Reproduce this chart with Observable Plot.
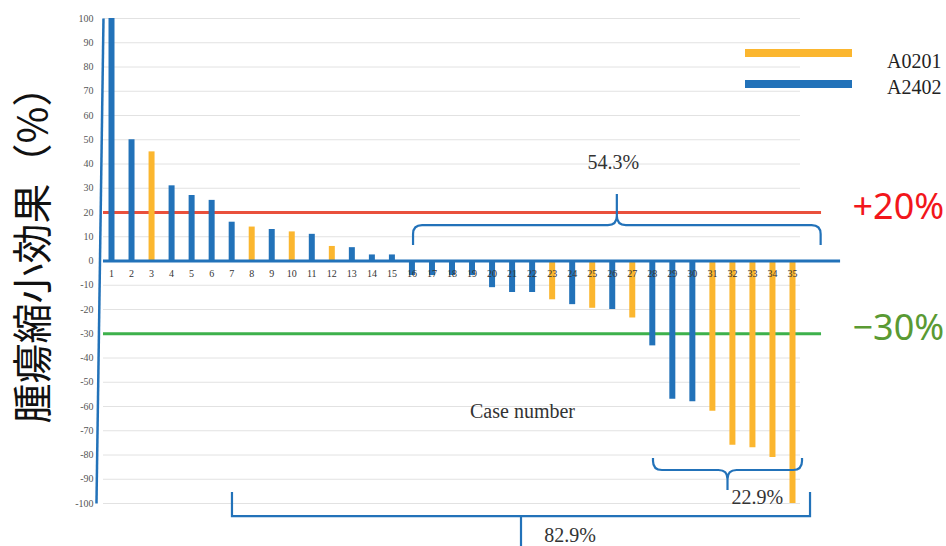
<!DOCTYPE html>
<html>
<head>
<meta charset="utf-8">
<script src="https://cdn.jsdelivr.net/npm/d3@7"></script>
<script src="https://cdn.jsdelivr.net/npm/@observablehq/plot@0.6"></script>
<style>
  body { margin: 0; background: #fff; }
  #wrap { position: relative; width: 946px; height: 546px; overflow: hidden; background: #fff; }
  .sw { position: absolute; left: 745px; width: 107px; height: 8px; }
  .lab { position: absolute; left: 887px; font-family: "Liberation Serif", serif; font-size: 20px; line-height: 20px; color: #222; }
</style>
</head>
<body>
<div id="wrap"></div>
<script>
// ---- data ----
const cases = [1,2,3,4,5,6,7,8,9,10,11,12,13,14,15,16,17,18,19,20,21,22,23,24,25,26,27,28,29,30,31,32,33,34,35];
const values = [100,50,45,31,27,25,16,14,13,12,11,6,5.5,2.5,2.5,-6,-6,-6,-6,-11,-13,-13,-16,-18,-19.5,-20,-23.5,-35,-57,-58,-62,-76,-77,-81,-100];
const groups = ["A2402","A2402","A0201","A2402","A2402","A2402","A2402","A0201","A2402","A0201","A2402","A0201","A2402","A2402","A2402",
                "A2402","A2402","A2402","A2402","A2402","A2402","A2402","A0201","A2402","A0201","A2402","A0201","A2402","A2402","A2402",
                "A0201","A0201","A0201","A0201","A0201"];
const seriesNames = ["A0201", "A2402"];
const yTicks = [-100,-90,-80,-70,-60,-50,-40,-30,-20,-10,0,10,20,30,40,50,60,70,80,90,100];
const thresholdValues = [20, -30];
const thresholdLabels = ["+20%", "\u221230%"];
const yTitle = "腫瘍縮小効果（%）";
const xTitle = "Case number";
const braceLabels = ["54.3%", "22.9%", "82.9%"];

// ---- styles ----
const BLUE = "#2272b9", ORANGE = "#fbb62f";
const seriesColors = [ORANGE, BLUE];
const thresholdLine = ["#e9503c", "#3db14b"];
const thresholdText = ["#f2161b", "#5a9a33"];

// annotation geometry (in case / percent units)
const lineStart = 0.6, thresholdEnd = 36.45, zeroEnd = 37.4;
const braces = [
  {from: 16.08, to: 36.43, end: 6.4, mid: 14.6, tip: 27.4, shape: "curly", lx: 26.05, ly: 40.6},
  {from: 28.06, to: 35.5, end: -81.4, mid: -86.4, tip: -94.6, shape: "curly", lx: 33.25, ly: -97.5},
  {from: 7.04, to: 35.9, end: -95.5, mid: -105.4, tip: -118, shape: "square", lx: 23.9, ly: -113.4}
];

const data = cases.map((c, i) => ({case: c, value: values[i], group: groups[i]}));
const thresholds = thresholdValues.map((v, i) => ({value: v, label: thresholdLabels[i], line: thresholdLine[i], text: thresholdText[i]}));
const braceData = braces.map((b, i) => ({...b, label: braceLabels[i]}));

function braceMark(b) {
  return (index, scales) => {
    const x1 = scales.x(b.from), x2 = scales.x(b.to), xc = (x1 + x2) / 2;
    const ye = scales.y(b.end), ym = scales.y(b.mid), yt = scales.y(b.tip);
    let d;
    if (b.shape === "square") {
      d = `M${x1},${ye}L${x1},${ym}L${x2},${ym}L${x2},${ye}M${xc},${ym}L${xc},${yt}`;
    } else {
      const r = 9;
      const s1 = Math.sign(ym - ye), rv = Math.min(r, Math.abs(ym - ye));
      const st = Math.sign(yt - ym);
      d = `M${x1},${ye}L${x1},${ym - s1 * rv}Q${x1},${ym} ${x1 + r},${ym}L${xc - r},${ym}Q${xc},${ym} ${xc},${ym + st * r}L${xc},${yt}` +
          `M${x2},${ye}L${x2},${ym - s1 * rv}Q${x2},${ym} ${x2 - r},${ym}L${xc + r},${ym}Q${xc},${ym} ${xc},${ym + st * r}`;
    }
    return d3.create("svg:path").attr("d", d).attr("fill", "none")
      .attr("stroke", BLUE).attr("stroke-width", 2.2).node();
  };
}

const plot = Plot.plot({
  width: 946, height: 546,
  marginTop: 18, marginBottom: 43, marginLeft: 103, marginRight: 146,
  x: {domain: [1, 35], range: [111, 792], axis: null},
  y: {domain: [-100, 100]},
  color: {domain: seriesNames, range: seriesColors},
  style: {background: "white", overflow: "visible"},
  marks: [
    Plot.ruleY(yTicks, {stroke: "#e2e2e2", strokeWidth: 1}),
    Plot.axisY({ticks: yTicks, tickSize: 0, tickPadding: 10, tickFormat: d => String(d), label: null,
      fontSize: 10, fontFamily: "Liberation Serif", fill: "#555"}),
    Plot.ruleY(thresholds, {y: "value", x1: lineStart, x2: thresholdEnd, stroke: d => d.line, strokeWidth: 3}),
    Plot.ruleX(data, {x: "case", y1: 0, y2: "value", stroke: "group", strokeWidth: 6}),
    Plot.ruleY([0], {x1: lineStart, x2: zeroEnd, stroke: BLUE, strokeWidth: 3}),
    Plot.link([0], {x1: lineStart, y1: 100, x2: 0.25, y2: -100, stroke: BLUE, strokeWidth: 2.5}),
    Plot.text(data, {x: "case", y: 0, dy: 12.5, text: d => String(d.case), fontSize: 10,
      fontFamily: "Liberation Serif", fill: "#333"}),
    Plot.text(thresholds, {y: "value", frameAnchor: "right", dx: 52, dy: -5, text: "label", fill: d => d.text,
      textAnchor: "start", fontSize: 36, fontFamily: "Noto Sans"}),
    Plot.text([yTitle], {frameAnchor: "left", textAnchor: "middle", lineAnchor: "middle", text: d => d, rotate: -90,
      dx: -69, dy: -16, fontSize: 40, fontFamily: "Noto Sans CJK JP", fill: "#111"}),
    Plot.text([xTitle], {x: () => 21.52, y: () => -62, text: d => d, fontSize: 20,
      fontFamily: "Liberation Serif", fill: "#333"}),
    ...braces.map(braceMark),
    Plot.text(braceData, {x: "lx", y: "ly", text: "label", fontSize: 20,
      fontFamily: "Liberation Serif", fill: "#333"})
  ]
});

const wrap = document.getElementById("wrap");
wrap.appendChild(plot);
// legend
const legendTops = [49, 80], labelTops = [51, 77];
seriesNames.forEach((name, i) => {
  const sw = document.createElement("div");
  sw.className = "sw"; sw.style.top = legendTops[i] + "px"; sw.style.background = seriesColors[i];
  const lab = document.createElement("div");
  lab.className = "lab"; lab.style.top = labelTops[i] + "px"; lab.textContent = name;
  wrap.appendChild(sw); wrap.appendChild(lab);
});
</script>
</body>
</html>
